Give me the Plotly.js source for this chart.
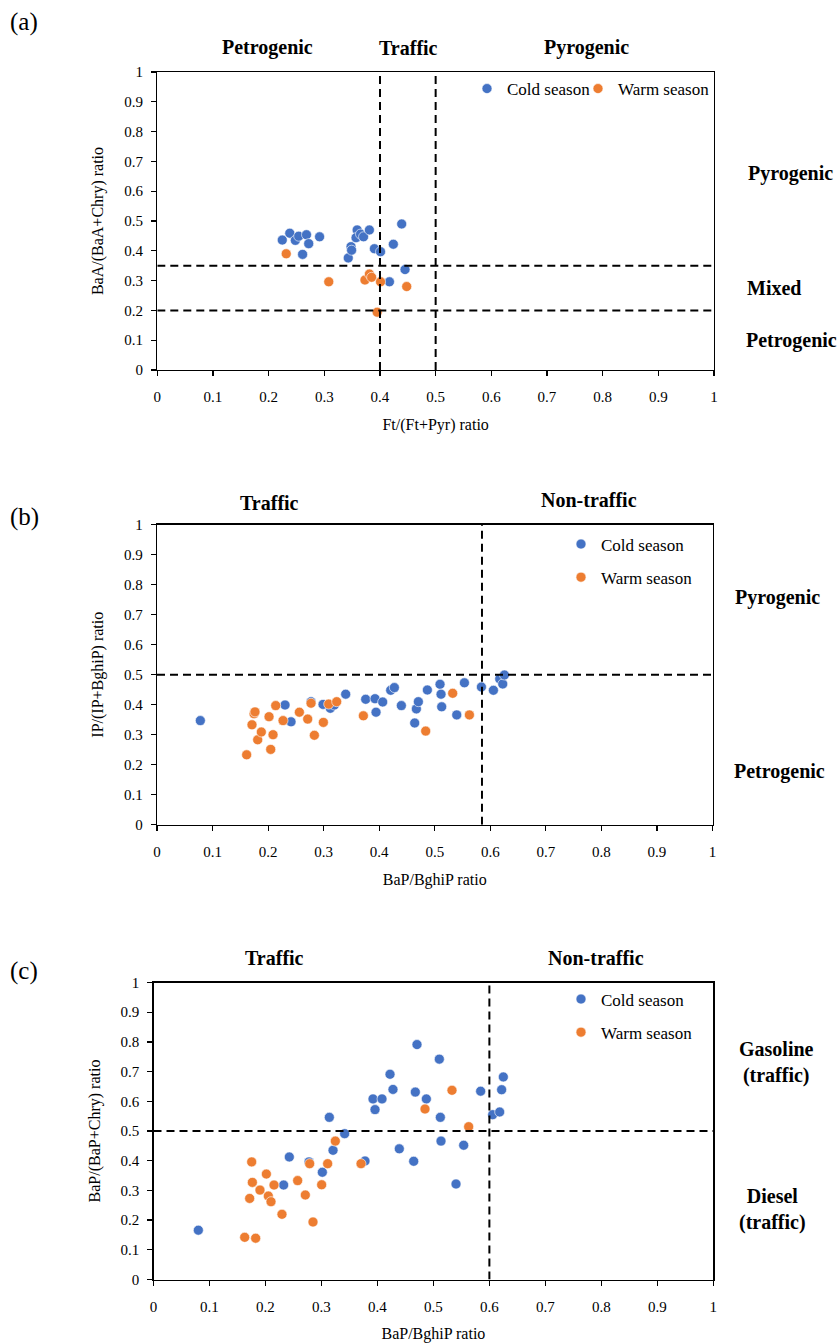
<!DOCTYPE html>
<html>
<head>
<meta charset="utf-8">
<script src="https://cdn.plot.ly/plotly-3.0.1.min.js"></script>
<style>html,body{margin:0;padding:0;background:#fff;}#chart{width:840px;height:1344px;}</style>
</head>
<body>
<div id="chart"></div>
<script>
// ---------- Data ----------
// Panel (a): Ft/(Ft+Pyr) vs BaA/(BaA+Chry)
var aColdX = [0.2245,0.238,0.248,0.254,0.268,0.272,0.261,0.2915,0.343,0.348,0.349,0.359,0.357,0.365,0.3705,0.381,0.390,0.401,0.424,0.439,0.445,0.417];
var aColdY = [0.436,0.459,0.435,0.449,0.454,0.424,0.388,0.447,0.376,0.414,0.402,0.470,0.444,0.456,0.447,0.470,0.407,0.397,0.422,0.490,0.337,0.296];
var aWarmX = [0.2316,0.308,0.373,0.381,0.385,0.401,0.395,0.448];
var aWarmY = [0.390,0.296,0.302,0.322,0.311,0.296,0.194,0.280];
// Panel (b): BaP/BghiP vs IP/(IP+BghiP)
var bColdX = [0.078,0.2305,0.2413,0.2773,0.2989,0.3121,0.3193,0.3397,0.3757,0.3925,0.3943,0.4063,0.4207,0.4273,0.4399,0.4639,0.4669,0.4705,0.4867,0.5095,0.5113,0.5125,0.5396,0.5534,0.584,0.6056,0.617,0.6224,0.6254];
var bColdY = [0.347,0.399,0.343,0.410,0.401,0.388,0.399,0.435,0.418,0.420,0.375,0.409,0.448,0.457,0.397,0.339,0.386,0.410,0.449,0.468,0.435,0.393,0.366,0.473,0.459,0.448,0.486,0.469,0.499];
var bWarmX = [0.1614,0.171,0.1747,0.1764,0.1813,0.1878,0.2017,0.2047,0.2089,0.2137,0.2269,0.2563,0.2713,0.2773,0.2833,0.2995,0.3091,0.3235,0.3715,0.4837,0.5323,0.5624];
var bWarmY = [0.233,0.333,0.370,0.376,0.283,0.309,0.360,0.251,0.300,0.397,0.347,0.375,0.352,0.405,0.298,0.341,0.402,0.410,0.363,0.312,0.438,0.366];
// Panel (c): BaP/BghiP vs BaP/(BaP+Chry)
var cColdX = [0.0801,0.2325,0.2426,0.2778,0.3016,0.3141,0.3207,0.3415,0.3778,0.3921,0.3957,0.4082,0.4225,0.4278,0.4391,0.4648,0.4677,0.4707,0.4874,0.5106,0.5124,0.5136,0.5404,0.5541,0.5844,0.6059,0.6184,0.6219,0.6249];
var cColdY = [0.166,0.318,0.4125,0.396,0.361,0.546,0.435,0.491,0.399,0.608,0.572,0.608,0.691,0.640,0.440,0.398,0.631,0.791,0.608,0.742,0.546,0.466,0.3215,0.452,0.634,0.555,0.564,0.639,0.682];
var cWarmX = [0.1629,0.1825,0.1718,0.1754,0.1766,0.1902,0.2016,0.2051,0.2099,0.2153,0.2295,0.2575,0.2712,0.279,0.2849,0.3004,0.3111,0.3248,0.3707,0.485,0.5332,0.563];
var cWarmY = [0.142,0.139,0.273,0.396,0.327,0.301,0.355,0.281,0.262,0.318,0.2195,0.333,0.2845,0.390,0.1936,0.319,0.390,0.466,0.390,0.574,0.637,0.5145];

// Threshold lines
var aVert = [0.4, 0.5];
var aHoriz = [0.2, 0.35];
var bVert = [0.585];
var bHoriz = [0.5];
var cVert = [0.6];
var cHoriz = [0.5];

var seriesNames = ['Cold season', 'Warm season'];
var axisTitles = {
  ax: 'Ft/(Ft+Pyr) ratio', ay: 'BaA/(BaA+Chry) ratio',
  bx: 'BaP/BghiP ratio', by: 'IP/(IP+BghiP) ratio',
  cx: 'BaP/BghiP ratio', cy: 'BaP/(BaP+Chry) ratio'
};

// ---------- Styling ----------
var W = 840, H = 1344;
var FONT = 'Liberation Serif';
var BLUE = '#4472C4', ORANGE = '#ED7D31';
function px(x) { return x / W; }
function py(y) { return 1 - y / H; }

function mk(x, y, color, name, xa, ya, leg, grp) {
  return {
    type: 'scatter', mode: 'markers', x: x, y: y, name: name,
    xaxis: xa, yaxis: ya, legend: leg, legendgroup: grp, showlegend: true,
    marker: { color: color, size: 10, line: { color: '#ffffff', width: 0.6 } },
    hoverinfo: 'x+y'
  };
}

var data = [
  mk(aColdX, aColdY, BLUE, seriesNames[0], 'x', 'y', 'legend', 'a1'),
  mk(aWarmX, aWarmY, ORANGE, seriesNames[1], 'x', 'y', 'legend4', 'a2'),
  mk(bColdX, bColdY, BLUE, seriesNames[0], 'x2', 'y2', 'legend2', 'b1'),
  mk(bWarmX, bWarmY, ORANGE, seriesNames[1], 'x2', 'y2', 'legend2', 'b2'),
  mk(cColdX, cColdY, BLUE, seriesNames[0], 'x3', 'y3', 'legend3', 'c1'),
  mk(cWarmX, cWarmY, ORANGE, seriesNames[1], 'x3', 'y3', 'legend3', 'c2')
];

function xaxis(domain, anchor, title) {
  return {
    domain: domain, anchor: anchor, range: [0, 1], dtick: 0.1, tick0: 0,
    showline: true, linecolor: '#000', linewidth: 1.3, mirror: true,
    ticks: 'outside', ticklen: 5, tickwidth: 1.2, tickcolor: '#000',
    showgrid: false, zeroline: false, fixedrange: true,
    ticklabelstandoff: 8,
    tickfont: { family: FONT, size: 15, color: '#000' },
    title: { text: title, font: { family: FONT, size: 16, color: '#000' }, standoff: 14 }
  };
}
function yaxis(domain, anchor, title) {
  return {
    domain: domain, anchor: anchor, range: [0, 1], dtick: 0.1, tick0: 0,
    showline: true, linecolor: '#000', linewidth: 1.3, mirror: true,
    ticks: 'outside', ticklen: 5, tickwidth: 1.2, tickcolor: '#000',
    showgrid: false, zeroline: false, fixedrange: true,
    ticklabelstandoff: 5,
    tickfont: { family: FONT, size: 15, color: '#000' },
    title: { text: title, font: { family: FONT, size: 16, color: '#000' }, standoff: 16 }
  };
}

var shapes = [];
function addLines(vert, horiz, xr, yr) {
  var ln = { color: '#000', width: 2, dash: '8px,5px' };
  vert.forEach(function (v) {
    shapes.push({ type: 'line', xref: xr, yref: yr, x0: v, x1: v, y0: 0, y1: 1, line: ln, layer: 'above' });
  });
  horiz.forEach(function (h) {
    shapes.push({ type: 'line', xref: xr, yref: yr, x0: 0, x1: 1, y0: h, y1: h, line: ln, layer: 'above' });
  });
}
addLines(aVert, aHoriz, 'x', 'y');
addLines(bVert, bHoriz, 'x2', 'y2');
addLines(cVert, cHoriz, 'x3', 'y3');

var labels = [
  ['(a)', 24, 22, 25, false],
  ['Petrogenic', 267, 48, 20, true],
  ['Traffic', 408, 48, 20, true],
  ['Pyrogenic', 586, 48, 20, true],
  ['Pyrogenic', 790, 173, 20, true],
  ['Mixed', 774, 288, 20, true],
  ['Petrogenic', 791, 340, 20, true],
  ['(b)', 24, 517, 25, false],
  ['Traffic', 269, 503, 20, true],
  ['Non-traffic', 589, 500, 20, true],
  ['Pyrogenic', 777, 597, 20, true],
  ['Petrogenic', 779, 771, 20, true],
  ['(c)', 24, 971, 25, false],
  ['Traffic', 274, 958, 20, true],
  ['Non-traffic', 596, 958, 20, true],
  ['Gasoline<br>(traffic)', 776, 1062, 20, true],
  ['Diesel<br>(traffic)', 772, 1209, 20, true]
];
var annotations = labels.map(function (l) {
  return {
    text: l[4] ? '<b>' + l[0] + '</b>' : l[0], x: px(l[1]), y: py(l[2]),
    xref: 'paper', yref: 'paper', xanchor: 'center', yanchor: 'middle',
    showarrow: false, font: { family: FONT, size: l[3], color: '#000' }
  };
});

var legFont = { family: FONT, size: 17, color: '#000' };
function leg(xp, yp, extra) {
  var o = {
    x: px(xp), y: py(yp), xanchor: 'left', yanchor: 'middle', visible: true,
    bgcolor: 'rgba(0,0,0,0)', font: legFont,
    itemclick: false, itemdoubleclick: false
  };
  for (var k in extra) o[k] = extra[k];
  return o;
}
var layout = {
  width: W, height: H,
  showlegend: true,
  margin: { l: 0, r: 0, t: 0, b: 0 },
  paper_bgcolor: '#fff', plot_bgcolor: '#fff',
  font: { family: FONT, color: '#000' },
  xaxis: xaxis([px(157.3), px(714)], 'y', axisTitles.ax),
  yaxis: yaxis([py(370), py(72)], 'x', axisTitles.ay),
  xaxis2: xaxis([px(157), px(712.5)], 'y2', axisTitles.bx),
  yaxis2: yaxis([py(824.7), py(524.7)], 'x2', axisTitles.by),
  xaxis3: xaxis([px(153.5), px(713.3)], 'y3', axisTitles.cx),
  yaxis3: yaxis([py(1279.5), py(982.5)], 'x3', axisTitles.cy),
  shapes: shapes,
  annotations: annotations,
  legend: leg(467, 89, { orientation: 'h' }),
  legend4: leg(578, 89, { orientation: 'h' }),
  legend2: leg(561, 561, { traceorder: 'grouped', tracegroupgap: 8 }),
  legend3: leg(561, 1016, { traceorder: 'grouped', tracegroupgap: 8 })
};

Plotly.newPlot('chart', data, layout, { displayModeBar: false, staticPlot: true });
</script>
</body>
</html>
